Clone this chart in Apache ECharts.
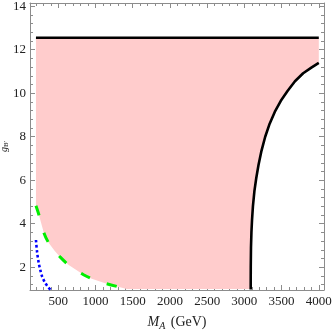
<!DOCTYPE html>
<html>
<head>
<meta charset="utf-8">
<script src="https://cdn.jsdelivr.net/npm/echarts@6/dist/echarts.min.js"></script>
<style>
  html, body { margin: 0; padding: 0; background: #fff; }
  #chart { width: 332px; height: 332px; }
</style>
</head>
<body>
<div id="chart"></div>
<script>
// axis ranges and ticks
const xRange = [120, 4070]
const yRange = [0.95, 14.15]
const xMajor = [500, 1000, 1500, 2000, 2500, 3000, 3500, 4000]
const yMajor = [2, 4, 6, 8, 10, 12, 14]

// curves
const topLine = [[200, 12.55], [4000, 12.55]]
const greenCurve = [[200, 4.82], [240, 4.4], [305, 3.6], [370, 3.12], [450, 2.75], [530, 2.45], [640, 2.1], [840, 1.65], [950, 1.47], [1120, 1.27], [1330, 1.08]]
const blueCurve = [[200, 3.25], [215, 2.7], [237, 2.2], [260, 1.85], [283, 1.57], [320, 1.3], [360, 1.1], [395, 0.97]]
const rightCurve = [[3085, 0.97], [3086, 2.0], [3089, 2.9], [3095, 3.6], [3103, 4.17], [3115, 4.8], [3135, 5.5], [3160, 6.1], [3190, 6.7], [3230, 7.35], [3280, 8.0], [3340, 8.6], [3410, 9.15], [3490, 9.65], [3580, 10.1], [3680, 10.55], [3790, 10.92], [3900, 11.18], [4000, 11.4]]
const shadeFloor = [[1420, 1.0], [3085, 1.0]]

// 5 subdivisions between majors (Mathematica style)
function minorTicks(majors, step, range) {
  const out = []
  for (let v = majors[0] - step * 5; v <= range[1]; v += step) {
    const r = Math.round(v * 1000) / 1000
    if (r < range[0] || r > range[1]) continue
    if (majors.some(m => Math.abs(m - r) < 1e-6)) continue
    out.push(r)
  }
  return out
}
const xMinor = minorTicks(xMajor, 100, xRange)
const yMinor = minorTicks(yMajor, 0.4, yRange)

// pink region outline
const shadePoly = [
  ...topLine,
  ...rightCurve.slice().reverse(),
  ...shadeFloor.slice().reverse(),
  ...greenCurve.slice().reverse()
]

const frameColor = '#8c8c8c'
const font = 'Liberation Serif'

function axis(kind, position, values, len, withLine, withLabel, range) {
  return {
    type: 'value',
    position: position,
    min: range[0],
    max: range[1],
    nameMoveOverlap: false,
    axisLine: { show: withLine, lineStyle: { color: frameColor, width: 1 } },
    axisTick: { show: true, inside: true, length: len, customValues: values, lineStyle: { color: frameColor } },
    axisLabel: withLabel
      ? { show: true, customValues: values, formatter: v => String(v), color: '#222', fontFamily: font, fontSize: 13, margin: kind === 'x' ? 5 : 4 }
      : { show: false },
    splitLine: { show: false }
  }
}

const chart = echarts.init(document.getElementById('chart'))

const xAxes = [
  axis('x', 'bottom', xMajor, 5, true, true, xRange),
  axis('x', 'bottom', xMinor, 3, false, false, xRange),
  axis('x', 'top', xMajor, 5, true, false, xRange),
  axis('x', 'top', xMinor, 3, false, false, xRange)
]
xAxes[0].name = '{i|M}{s|A} (GeV)'
xAxes[0].nameLocation = 'middle'
xAxes[0].nameGap = 24
xAxes[0].nameTextStyle = {
  fontFamily: font, fontSize: 14, color: '#222',
  rich: {
    i: { fontFamily: font, fontSize: 14, fontStyle: 'italic', color: '#222' },
    s: { fontFamily: font, fontSize: 10, fontStyle: 'italic', color: '#222', verticalAlign: 'bottom', padding: [7, 2, 0, 0] }
  }
}

const yAxes = [
  axis('y', 'left', yMajor, 5, true, true, yRange),
  axis('y', 'left', yMinor, 3, false, false, yRange),
  axis('y', 'right', yMajor, 5, true, false, yRange),
  axis('y', 'right', yMinor, 3, false, false, yRange)
]
yAxes[0].name = '{i|g}{s|B\u2032}'
yAxes[0].nameLocation = 'middle'
yAxes[0].nameRotate = 90
yAxes[0].nameGap = 20
yAxes[0].nameTextStyle = {
  fontFamily: font, fontSize: 10, color: '#222',
  rich: {
    i: { fontFamily: font, fontSize: 10, fontStyle: 'italic', color: '#222' },
    s: { fontFamily: font, fontSize: 7, color: '#222', verticalAlign: 'bottom', padding: [4, 0, 0, 0] }
  }
}

const option = {
  animation: false,
  grid: { left: 30, right: 8, top: 3, bottom: 42, containLabel: false, outerBoundsMode: 'none' },
  xAxis: xAxes,
  yAxis: yAxes,
  series: [
    {
      type: 'custom',
      coordinateSystem: 'cartesian2d',
      xAxisIndex: 0,
      yAxisIndex: 0,
      z: 1,
      clip: true,
      data: [[0, 0]],
      renderItem: (params, api) => ({
        type: 'polygon',
        shape: { points: shadePoly.map(p => api.coord(p)) },
        style: { fill: '#ffcccc' }
      })
    },
    {
      type: 'line', data: topLine, symbol: 'none', z: 3,
      lineStyle: { color: '#000', width: 2.6 }
    },
    {
      type: 'line', data: rightCurve, symbol: 'none', z: 3,
      lineStyle: { color: '#000', width: 2.6, join: 'round' }
    },
    {
      type: 'line', data: greenCurve, symbol: 'none', smooth: 0.3, z: 3,
      lineStyle: { color: '#00ee00', width: 3, type: [10, 18], cap: 'butt' }
    },
    {
      type: 'line', data: blueCurve, symbol: 'none', smooth: 0.3, z: 3,
      lineStyle: { color: '#0000ff', width: 2.6, type: [2.6, 2.4] }
    }
  ]
}

chart.setOption(option)
</script>
</body>
</html>
